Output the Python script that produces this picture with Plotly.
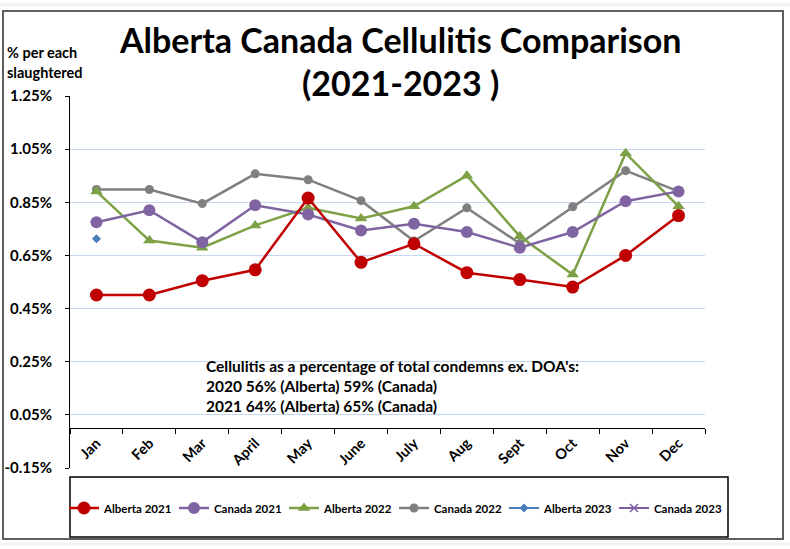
import plotly.graph_objects as go

months = ["Jan", "Feb", "Mar", "April", "May", "June", "July", "Aug", "Sept", "Oct", "Nov", "Dec"]

alberta_2021 = [0.501, 0.501, 0.555, 0.596, 0.866, 0.624, 0.694, 0.585, 0.559, 0.531, 0.650, 0.800]
canada_2021 = [0.775, 0.820, 0.700, 0.839, 0.804, 0.744, 0.769, 0.738, 0.679, 0.738, 0.854, 0.891]
alberta_2022 = [0.891, 0.706, 0.679, 0.763, 0.829, 0.789, 0.835, 0.950, 0.722, 0.578, 1.035, 0.835]
canada_2022 = [0.898, 0.898, 0.845, 0.957, 0.935, 0.856, 0.704, 0.829, 0.695, 0.833, 0.969, 0.891]
alberta_2023 = [0.713] + [None] * 11
canada_2023 = [None] * 12

y_ticks = [-0.15, 0.05, 0.25, 0.45, 0.65, 0.85, 1.05, 1.25]

title_lines = ["Alberta Canada Cellulitis Comparison", "(2021-2023 )"]
y_title_lines = ["% per each", "slaughtered"]
note_lines = [
    "Cellulitis as a percentage of total condemns ex. DOA's:",
    "2020 56% (Alberta) 59% (Canada)",
    "2021 64% (Alberta) 65% (Canada)",
]

FONT = "Lato"

# plot area in target pixels
PL, PR, PT, PB = 70, 705, 96, 468
PW, PH = PR - PL, PB - PT


def px(xp):
    return (xp - PL) / PW


def py(yp):
    return (PB - yp) / PH


series = [
    ("Canada 2023", canada_2023, "#7e5fa4", "x-thin", 8, 2),
    ("Alberta 2023", alberta_2023, "#4a7ebb", "diamond", 7, 2),
    ("Canada 2022", canada_2022, "#7f7f7f", "circle", 9, 2.5),
    ("Alberta 2022", alberta_2022, "#7ea146", "triangle-up", 11, 2.5),
    ("Canada 2021", canada_2021, "#8064a2", "circle", 12, 2.5),
    ("Alberta 2021", alberta_2021, "#c00000", "circle", 13, 2.5),
]

fig = go.Figure()
for name, vals, color, sym, size, lw in series:
    fig.add_trace(go.Scatter(
        x=months, y=vals, name=f"<b>{name}</b>", mode="lines+markers",
        line=dict(color=color, width=lw),
        marker=dict(symbol=sym, size=size, color=color,
                    line=dict(color=color, width=1.5 if sym == "x-thin" else 0)),
        connectgaps=False,
    ))

ymin, ymax = -0.15, 1.25
x_pos = (0 - ymin) / (ymax - ymin)

fig.update_layout(
    width=790, height=549,
    margin=dict(l=PL, r=790 - PR, t=PT, b=549 - PB, autoexpand=False),
    paper_bgcolor="white", plot_bgcolor="white",
    font=dict(family=FONT, size=13, color="black"),
    showlegend=True,
    legend=dict(
        orientation="h", traceorder="reversed",
        x=px(64), xanchor="left",
        y=py(508), yanchor="middle",
        font=dict(family=FONT, size=11.5, color="black"),
        bgcolor="rgba(0,0,0,0)", itemwidth=30,
        entrywidth=65, entrywidthmode="pixels",
    ),
    xaxis=dict(
        type="category", anchor="free", position=x_pos,
        showline=True, linecolor="black", linewidth=1,
        ticks="outside", ticklen=5, tickcolor="black", tickson="boundaries",
        tickangle=-45, showgrid=False, zeroline=False, automargin=False,
        tickfont=dict(family=FONT, size=14.5, color="black"),
        range=[-0.5, 11.5],
        tickvals=months, ticktext=[f"<b>{m}</b>" for m in months],
    ),
    yaxis=dict(
        range=[ymin, ymax], tickvals=y_ticks,
        ticktext=[f"<b>{v:.2f}%</b>" for v in y_ticks],
        showline=True, linecolor="black", linewidth=1,
        ticks="outside", ticklen=4, tickcolor="black",
        showgrid=True, gridcolor="#c6d6f0", gridwidth=1,
        zeroline=False, ticklabelstandoff=10, automargin=False,
        tickfont=dict(family=FONT, size=15, color="black"),
    ),
)

# title lines
for i, txt in enumerate(title_lines):
    fig.add_annotation(
        text=f"<b>{txt}</b>", xref="paper", yref="paper",
        x=px(400), xanchor="center", y=py(40 + 42 * i), yanchor="middle",
        showarrow=False, font=dict(family=FONT, size=34, color="black"),
    )

# y-axis title (two lines, upper left)
for i, txt in enumerate(y_title_lines):
    fig.add_annotation(
        text=f"<b>{txt}</b>", xref="paper", yref="paper",
        x=px(5), xanchor="left", y=py(52 + 20 * i), yanchor="middle",
        showarrow=False, font=dict(family=FONT, size=14.5, color="black"),
    )

# note text
for i, txt in enumerate(note_lines):
    fig.add_annotation(
        text=f"<b>{txt}</b>", xref="paper", yref="paper",
        x=px(204), xanchor="left", y=py(366 + 20 * i), yanchor="middle",
        showarrow=False, font=dict(family=FONT, size=15.5, color="black"),
    )

# legend box
fig.add_shape(type="rect", xref="paper", yref="paper",
              x0=px(70), x1=px(728), y0=py(537), y1=py(477),
              line=dict(color="black", width=1.5), fillcolor="rgba(0,0,0,0)")
# outer chart border
fig.add_shape(type="rect", xref="paper", yref="paper",
              x0=px(3), x1=px(783), y0=py(539), y1=py(11),
              line=dict(color="#5f5f5f", width=2), fillcolor="rgba(0,0,0,0)")
# faint page strips outside the frame
for y_line in (5, 544):
    fig.add_shape(type="line", xref="paper", yref="paper",
                  x0=px(0), x1=px(790), y0=py(y_line), y1=py(y_line),
                  line=dict(color="#f2f2f2", width=3))

fig.write_html("out.html", config={"displayModeBar": False},
               post_script="document.body.style.margin='0';")
